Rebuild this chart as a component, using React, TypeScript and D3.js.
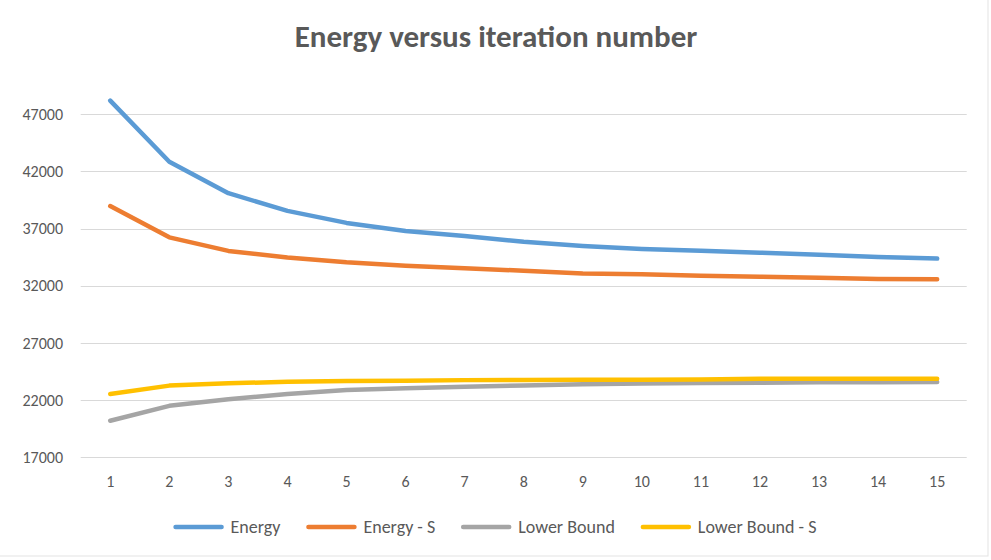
import { useRef, useEffect } from "react";
import * as d3 from "d3";

// ── Data ──────────────────────────────────────────────────────────────────────

const iterations = ["1", "2", "3", "4", "5", "6", "7", "8", "9", "10", "11", "12", "13", "14", "15"];

const energy = [48200, 42850, 40100, 38550, 37500, 36800, 36350, 35850, 35480, 35220, 35070, 34900, 34720, 34520, 34380];
const energyS = [38980, 36240, 35050, 34480, 34050, 33760, 33530, 33320, 33070, 33000, 32880, 32800, 32710, 32600, 32570];
const lowerBound = [20200, 21500, 22070, 22540, 22880, 23030, 23170, 23290, 23380, 23460, 23500, 23520, 23560, 23570, 23590];
const lowerBoundS = [22540, 23270, 23470, 23610, 23670, 23700, 23750, 23760, 23790, 23790, 23800, 23860, 23860, 23860, 23860];

const yTicks = [17000, 22000, 27000, 32000, 37000, 42000, 47000];

const seriesNames = ["Energy", "Energy - S", "Lower Bound", "Lower Bound - S"];
const seriesColors = ["#5B9BD5", "#ED7D31", "#A5A5A5", "#FFC000"];
const seriesValues = [energy, energyS, lowerBound, lowerBoundS];

const TITLE = "Energy versus iteration number";

// ── Chart ─────────────────────────────────────────────────────────────────────

const W = 991;
const H = 560;
const FONT = "Carlito, Calibri, 'Open Sans', sans-serif";
const TEXT = "#595959";

function LineChart() {
  const svgRef = useRef<SVGSVGElement>(null);

  useEffect(() => {
    if (!svgRef.current) return;
    const svg = d3.select(svgRef.current);
    svg.selectAll("*").remove();

    const left = 80.7;
    const right = 966.7;

    const x = d3.scaleBand<string>().domain(iterations).range([left, right]);
    const cx = (c: string) => (x(c) ?? 0) + x.bandwidth() / 2;
    const y = d3.scaleLinear().domain([17000, 47000]).range([457.3, 114.3]);

    // chart border (right / bottom edges only visible)
    svg
      .append("rect")
      .attr("x", -1)
      .attr("y", -1)
      .attr("width", W - 2)
      .attr("height", H - 3)
      .attr("fill", "none")
      .attr("stroke", "#E3E3E3");

    // title
    svg
      .append("text")
      .attr("x", 496)
      .attr("y", 47)
      .attr("text-anchor", "middle")
      .attr("font-family", FONT)
      .attr("font-weight", 700)
      .attr("font-size", 31)
      .attr("fill", TEXT)
      .text(TITLE);

    // gridlines
    svg
      .append("g")
      .selectAll("line")
      .data(yTicks)
      .enter()
      .append("line")
      .attr("x1", left)
      .attr("x2", right)
      .attr("y1", (d) => Math.round(y(d)) + 0.5)
      .attr("y2", (d) => Math.round(y(d)) + 0.5)
      .attr("stroke", "#D9D9D9")
      .attr("stroke-width", 1.2);

    // y tick labels
    svg
      .append("g")
      .selectAll("text")
      .data(yTicks)
      .enter()
      .append("text")
      .attr("x", 63)
      .attr("y", (d) => y(d))
      .attr("dy", "0.35em")
      .attr("text-anchor", "end")
      .attr("font-family", FONT)
      .attr("font-size", 16)
      .attr("fill", TEXT)
      .text((d) => d);

    // x tick labels
    svg
      .append("g")
      .selectAll("text")
      .data(iterations)
      .enter()
      .append("text")
      .attr("x", (d) => cx(d))
      .attr("y", 481)
      .attr("dy", "0.35em")
      .attr("text-anchor", "middle")
      .attr("font-family", FONT)
      .attr("font-size", 16)
      .attr("fill", TEXT)
      .text((d) => d);

    // lines
    const line = d3
      .line<number>()
      .x((_d, i) => cx(iterations[i]))
      .y((d) => y(d));

    seriesValues.forEach((vals, i) => {
      svg
        .append("path")
        .attr("d", line(vals) ?? "")
        .attr("fill", "none")
        .attr("stroke", seriesColors[i])
        .attr("stroke-width", 4.5)
        .attr("stroke-linecap", "round")
        .attr("stroke-linejoin", "round");
    });

    // legend, centred under the plot
    const legend = svg.append("g");
    const swatch = 46;
    const gap = 9;
    const itemGap = 28;
    let cursor = 0;
    seriesNames.forEach((name, i) => {
      const g = legend.append("g").attr("transform", `translate(${cursor},0)`);
      g.append("line")
        .attr("x1", 0)
        .attr("x2", swatch)
        .attr("y1", 0)
        .attr("y2", 0)
        .attr("stroke", seriesColors[i])
        .attr("stroke-width", 4.5)
        .attr("stroke-linecap", "round");
      const t = g
        .append("text")
        .attr("x", swatch + gap)
        .attr("y", 0)
        .attr("dy", "0.35em")
        .attr("font-family", FONT)
        .attr("font-size", 18)
        .attr("fill", TEXT)
        .text(name);
      const tw = (t.node() as SVGTextElement).getComputedTextLength();
      cursor += swatch + gap + tw + itemGap;
    });
    const total = cursor - itemGap;
    legend.attr("transform", `translate(${496 - total / 2},527)`);
  }, []);

  return <svg ref={svgRef} width={W} height={H} style={{ display: "block", background: "#fff" }} />;
}

export default function App() {
  return (
    <div style={{ position: "absolute", left: 0, top: 0 }}>
      <LineChart />
    </div>
  );
}
